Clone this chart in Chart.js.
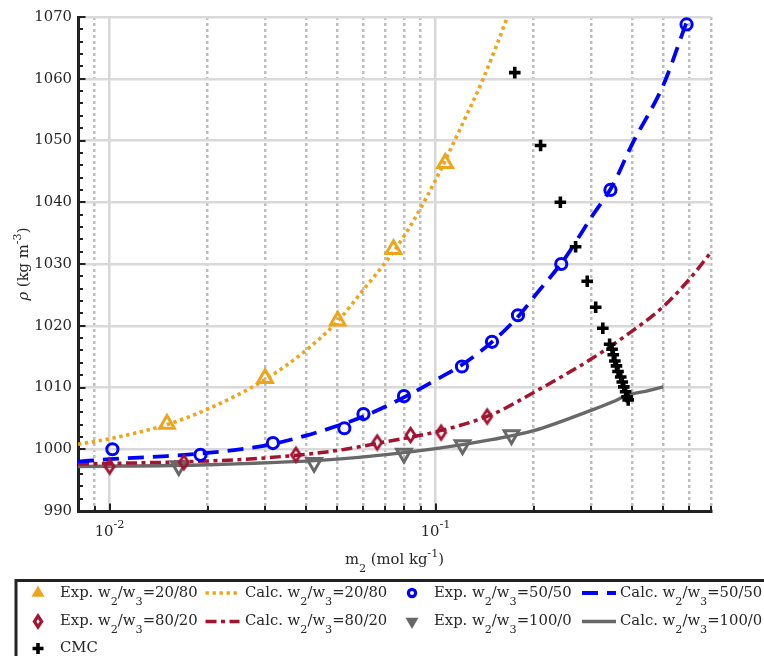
<!DOCTYPE html>
<html>
<head>
<meta charset="utf-8">
<script src="https://cdn.jsdelivr.net/npm/chart.js@4.4.0/dist/chart.umd.min.js"></script>
<style>
  html, body { margin: 0; padding: 0; background: #fff; }
</style>
</head>
<body>
<canvas id="rhoChart" width="764" height="656"></canvas>
<script>
// m2 (mol/kg) on x, density rho (kg/m3) on y
const exp2080X = [0.0150, 0.0300, 0.0501, 0.0743, 0.107];
const exp2080Y = [1004.1, 1011.5, 1020.8, 1032.4, 1046.3];
const calc2080X = [0.008, 0.01, 0.015, 0.02, 0.03, 0.04, 0.05, 0.06, 0.075, 0.086, 0.1, 0.12, 0.14, 0.166, 0.18];
const calc2080Y = [1000.8, 1001.7, 1004.0, 1006.5, 1011.3, 1016.0, 1020.7, 1025.8, 1032.3, 1037.2, 1043.6, 1052.3, 1060.0, 1070.0, 1075.5];

const exp5050X = [0.0102, 0.0190, 0.0317, 0.0525, 0.0601, 0.0800, 0.1205, 0.149, 0.179, 0.243, 0.344, 0.589];
const exp5050Y = [1000.0, 999.1, 1001.0, 1003.4, 1005.7, 1008.6, 1013.4, 1017.4, 1021.7, 1030.0, 1042.0, 1068.8];
const calc5050X = [0.008, 0.01, 0.015, 0.02, 0.03, 0.04, 0.05, 0.06, 0.08, 0.1, 0.12, 0.15, 0.18, 0.2, 0.25, 0.3, 0.35, 0.4, 0.5, 0.6, 0.7];
const calc5050Y = [998.0, 998.4, 998.9, 999.4, 1000.6, 1002.2, 1003.8, 1005.3, 1008.4, 1011.2, 1013.6, 1017.5, 1021.6, 1024.6, 1031.0, 1037.5, 1042.8, 1049.3, 1059.0, 1070.2, 1078.0];

const exp8020X = [0.0100, 0.0169, 0.0373, 0.0662, 0.0838, 0.104, 0.144];
const exp8020Y = [997.2, 997.9, 999.1, 1001.1, 1002.3, 1002.7, 1005.3];
const calc8020X = [0.008, 0.01, 0.02, 0.03, 0.05, 0.07, 0.1, 0.15, 0.2, 0.3, 0.4, 0.5, 0.6, 0.7];
const calc8020Y = [997.6, 997.7, 998.1, 998.6, 999.8, 1001.2, 1002.8, 1005.7, 1009.2, 1014.6, 1019.1, 1023.1, 1027.5, 1031.9];

const exp1000X = [0.0163, 0.0424, 0.0800, 0.121, 0.171];
const exp1000Y = [997.3, 997.8, 999.3, 1000.7, 1002.3];
const calc1000X = [0.008, 0.02, 0.05, 0.1, 0.15, 0.2, 0.3, 0.35, 0.39, 0.45, 0.5];
const calc1000Y = [997.2, 997.5, 998.4, 1000.1, 1001.6, 1003.0, 1006.3, 1007.7, 1008.8, 1009.5, 1010.1];

const cmcX = [0.175, 0.210, 0.2415, 0.269, 0.292, 0.310, 0.326, 0.342, 0.348, 0.351, 0.355, 0.359, 0.363, 0.370, 0.374, 0.378, 0.383, 0.387, 0.390];
const cmcY = [1061.0, 1049.2, 1040.0, 1032.8, 1027.2, 1023.0, 1019.6, 1017.0, 1016.2, 1015.3, 1014.3, 1013.5, 1012.6, 1011.7, 1010.9, 1010.1, 1009.3, 1008.5, 1008.0];

// legend labels, in legend order (4 per row); _x = subscript, ^{..} = superscript, *..* = italic
const seriesLabels = [
  'Exp. w_2/w_3=20/80', 'Calc. w_2/w_3=20/80', 'Exp. w_2/w_3=50/50', 'Calc. w_2/w_3=50/50',
  'Exp. w_2/w_3=80/20', 'Calc. w_2/w_3=80/20', 'Exp. w_2/w_3=100/0', 'Calc. w_2/w_3=100/0',
  'CMC'
];
const xTitle = 'm_2 (mol kg^{-1})';
const yTitle = '*ρ* (kg m^{-3})';
const yMin = 990, yMax = 1070, yStep = 10, yMinorStep = 2;
const xMin = 0.008, xMax = 0.7;

const FONT = "'DejaVu Serif', serif";
const TEXT = '#262626';
const FS = 14.8;

const ORANGE = '#EDA51C';
const BLUE = '#0000FF';
const RED = '#A2142F';
const GRAY = '#686868';

const pts = (xs, ys) => xs.map((x, i) => ({ x: x, y: ys[i] }));

function diamondImage(color, w, h, lw, fill) {
  const c = document.createElement('canvas');
  c.width = Math.ceil(w + lw * 2);
  c.height = Math.ceil(h + lw * 2);
  const g = c.getContext('2d');
  const cx = c.width / 2, cy = c.height / 2;
  g.beginPath();
  g.moveTo(cx, cy - h / 2);
  g.lineTo(cx + w / 2, cy);
  g.lineTo(cx, cy + h / 2);
  g.lineTo(cx - w / 2, cy);
  g.closePath();
  if (fill) { g.fillStyle = fill; g.fill(); }
  g.strokeStyle = color;
  g.lineWidth = lw;
  g.stroke();
  return c;
}

function isDecade(v) {
  const l = Math.log10(v);
  return Math.abs(l - Math.round(l)) < 1e-6;
}

function logTicks(min, max) {
  const out = [];
  for (let e = Math.floor(Math.log10(min)); e <= Math.ceil(Math.log10(max)); e++) {
    for (let k = 1; k <= 9; k++) {
      const v = k * Math.pow(10, e);
      if (v >= min * 0.9999 && v <= max * 1.0001) out.push(v);
    }
  }
  return out;
}

// rich text: sub/superscripts and italics on canvas
function richParts(str) {
  const parts = [];
  let buf = '', italic = false, i = 0;
  const flush = () => { if (buf) { parts.push({ t: buf, mode: 'n', it: italic }); buf = ''; } };
  while (i < str.length) {
    const c = str[i];
    if (c === '_' || c === '^') {
      flush();
      let t;
      if (str[i + 1] === '{') {
        const j = str.indexOf('}', i);
        t = str.slice(i + 2, j);
        i = j + 1;
      } else {
        t = str[i + 1];
        i += 2;
      }
      parts.push({ t: t, mode: c === '_' ? 'sub' : 'sup', it: italic });
    } else if (c === '*') {
      flush();
      italic = !italic;
      i++;
    } else {
      buf += c;
      i++;
    }
  }
  flush();
  return parts;
}

function drawRich(ctx, str, x, y, size, align) {
  const parts = richParts(str);
  const fontFor = (p) => (p.it ? 'italic ' : '') + (p.mode === 'n' ? size : size * 0.76).toFixed(2) + 'px ' + FONT;
  let total = 0;
  parts.forEach((p) => {
    ctx.font = fontFor(p);
    p.w = ctx.measureText(p.t).width;
    total += p.w;
  });
  let cx = align === 'center' ? x - total / 2 : align === 'right' ? x - total : x;
  ctx.textAlign = 'left';
  ctx.textBaseline = 'middle';
  ctx.fillStyle = TEXT;
  parts.forEach((p) => {
    ctx.font = fontFor(p);
    const dy = p.mode === 'sub' ? size * 0.6 : p.mode === 'sup' ? -size * 0.45 : 0;
    ctx.fillText(p.t, cx, y + dy);
    cx += p.w;
  });
}

function drawSymbol(ctx, kind, x, y, color) {
  ctx.save();
  ctx.fillStyle = color;
  ctx.strokeStyle = color;
  ctx.setLineDash([]);
  ctx.beginPath();
  if (kind === 'triUp' || kind === 'triDown') {
    const r = 7.5, s = kind === 'triUp' ? 1 : -1;
    ctx.moveTo(x, y - s * r);
    ctx.lineTo(x + r * 0.866, y + s * r * 0.5);
    ctx.lineTo(x - r * 0.866, y + s * r * 0.5);
    ctx.closePath();
    ctx.fill();
  } else if (kind === 'circle') {
    ctx.lineWidth = 3.2;
    ctx.arc(x, y, 3.6, 0, Math.PI * 2);
    ctx.stroke();
  } else if (kind === 'diamond') {
    ctx.lineWidth = 3.2;
    ctx.moveTo(x, y - 5.5);
    ctx.lineTo(x + 3.6, y);
    ctx.lineTo(x, y + 5.5);
    ctx.lineTo(x - 3.6, y);
    ctx.closePath();
    ctx.stroke();
  } else if (kind === 'cross') {
    ctx.lineWidth = 3.6;
    ctx.moveTo(x - 5.5, y); ctx.lineTo(x + 5.5, y);
    ctx.moveTo(x, y - 5.5); ctx.lineTo(x, y + 5.5);
    ctx.stroke();
  }
  ctx.restore();
}

const datasets = [
  {
    label: seriesLabels[0], data: pts(exp2080X, exp2080Y), order: 0, legendKind: 'triUp',
    pointStyle: 'triangle', pointRadius: 8.5, borderColor: ORANGE, backgroundColor: 'rgba(0,0,0,0)', pointBorderWidth: 3
  },
  {
    label: seriesLabels[1], data: pts(calc2080X, calc2080Y), order: 1, showLine: true, pointRadius: 0,
    borderColor: ORANGE, borderWidth: 3.6, borderDash: [3.4, 3.6], cubicInterpolationMode: 'monotone'
  },
  {
    label: seriesLabels[2], data: pts(exp5050X, exp5050Y), order: 0, legendKind: 'circle',
    pointStyle: 'circle', pointRadius: 5.6, borderColor: BLUE, backgroundColor: 'rgba(0,0,0,0)', pointBorderWidth: 3
  },
  {
    label: seriesLabels[3], data: pts(calc5050X, calc5050Y), order: 1, showLine: true, pointRadius: 0,
    borderColor: BLUE, borderWidth: 3.8, borderDash: [16, 9], cubicInterpolationMode: 'monotone'
  },
  {
    label: seriesLabels[4], data: pts(exp8020X, exp8020Y), order: 0, legendKind: 'diamond',
    pointStyle: diamondImage(RED, 9, 13.5, 2.9), pointRadius: 7, borderColor: RED, backgroundColor: 'rgba(0,0,0,0)'
  },
  {
    label: seriesLabels[5], data: pts(calc8020X, calc8020Y), order: 1, showLine: true, pointRadius: 0,
    borderColor: RED, borderWidth: 3.5, borderDash: [11, 4.5, 4, 4.5], cubicInterpolationMode: 'monotone'
  },
  {
    label: seriesLabels[6], data: pts(exp1000X, exp1000Y), order: 0, legendKind: 'triDown',
    pointStyle: 'triangle', rotation: 180, pointRadius: 8.5, borderColor: GRAY, backgroundColor: 'rgba(0,0,0,0)', pointBorderWidth: 3
  },
  {
    label: seriesLabels[7], data: pts(calc1000X, calc1000Y), order: 1, showLine: true, pointRadius: 0,
    borderColor: GRAY, borderWidth: 3.4, cubicInterpolationMode: 'monotone'
  },
  {
    label: seriesLabels[8], data: pts(cmcX, cmcY), order: 0, legendKind: 'cross',
    pointStyle: 'cross', pointRadius: 5.8, borderColor: '#000', backgroundColor: '#000', pointBorderWidth: 3.6
  }
];

// inward ticks, titles, decade labels and the boxed legend
const decorPlugin = {
  id: 'decor',
  beforeDatasetsDraw(chart) {
    const { ctx, chartArea: ca, scales: { x, y } } = chart;
    ctx.save();
    ctx.strokeStyle = '#222';
    ctx.lineWidth = 2;
    for (let v = yMin; v <= yMax + 1e-9; v += yMinorStep) {
      const py = Math.round(y.getPixelForValue(v));
      const len = (v - yMin) % yStep === 0 ? 7.5 : 5;
      ctx.beginPath();
      ctx.moveTo(ca.left, py);
      ctx.lineTo(ca.left + len, py);
      ctx.stroke();
    }
    x.ticks.forEach((t) => {
      const px = Math.round(x.getPixelForValue(t.value));
      const len = isDecade(t.value) ? 7.5 : 5;
      ctx.beginPath();
      ctx.moveTo(px, ca.bottom);
      ctx.lineTo(px, ca.bottom - len);
      ctx.stroke();
    });
    ctx.restore();
  },
  afterDraw(chart) {
    const { ctx, chartArea: ca, scales: { x } } = chart;
    ctx.save();
    // decade labels on the log axis
    x.ticks.forEach((t) => {
      if (!isDecade(t.value)) return;
      const e = Math.round(Math.log10(t.value));
      drawRich(ctx, '10^{' + e + '}', x.getPixelForValue(t.value), ca.bottom + 21, FS, 'center');
    });
    drawRich(ctx, xTitle, (ca.left + ca.right) / 2, ca.bottom + 49.5, FS, 'center');
    ctx.save();
    ctx.translate(24.5, (ca.top + ca.bottom) / 2);
    ctx.rotate(-Math.PI / 2);
    drawRich(ctx, yTitle, 0, 0, FS, 'center');
    ctx.restore();

    // legend box
    ctx.strokeStyle = '#222';
    ctx.lineWidth = 3;
    ctx.strokeRect(16, 580.5, 800, 200);
    const symX = [38, 222.5, 412, 599];
    const txtX = [60, 245, 434, 620];
    const rowY = [593, 621.5, 648.5];
    chart.data.datasets.forEach((ds, i) => {
      const row = Math.floor(i / 4), col = i % 4;
      const yy = rowY[row];
      if (ds.showLine) {
        ctx.save();
        ctx.strokeStyle = ds.borderColor;
        ctx.lineWidth = ds.borderWidth;
        ctx.setLineDash(ds.borderDash || []);
        ctx.beginPath();
        ctx.moveTo(symX[col] - 17, yy);
        ctx.lineTo(symX[col] + 17, yy);
        ctx.stroke();
        ctx.restore();
      } else {
        drawSymbol(ctx, ds.legendKind, symX[col], yy, ds.borderColor);
      }
      drawRich(ctx, seriesLabels[i], txtX[col], yy, FS, 'left');
    });
    ctx.restore();
  }
};

const ctxRho = document.getElementById('rhoChart').getContext('2d');

const rhoChart = new Chart(ctxRho, {
  type: 'scatter',
  data: { datasets: datasets },
  options: {
    responsive: false,
    animation: false,
    events: [],
    devicePixelRatio: 1,
    layout: { padding: { top: 17, right: 53, bottom: 0, left: 0 } },
    plugins: {
      legend: { display: false },
      tooltip: { enabled: false },
      title: { display: false }
    },
    scales: {
      x: {
        type: 'logarithmic',
        min: xMin,
        max: xMax,
        afterBuildTicks: (s) => { s.ticks = logTicks(xMin, xMax).map((v) => ({ value: v })); },
        afterFit: (s) => { s.height = 145; },
        ticks: { display: false },
        grid: {
          drawTicks: false,
          lineWidth: 2.5,
          color: (c) => (c.tick && isDecade(c.tick.value) ? '#d7d7d7' : '#bdbdbd')
        },
        border: {
          color: '#222',
          width: 3,
          dash: (c) => (c.tick && !isDecade(c.tick.value) ? [3, 3] : [])
        }
      },
      y: {
        type: 'linear',
        min: yMin,
        max: yMax,
        afterFit: (s) => { s.width = 78; },
        ticks: {
          stepSize: yStep,
          padding: 6,
          color: TEXT,
          font: { family: FONT, size: FS },
          callback: (v) => String(v)
        },
        grid: { drawTicks: false, lineWidth: 2.5, color: '#d9d9d9' },
        border: { color: '#222', width: 3 }
      }
    }
  },
  plugins: [decorPlugin]
});
</script>
</body>
</html>
